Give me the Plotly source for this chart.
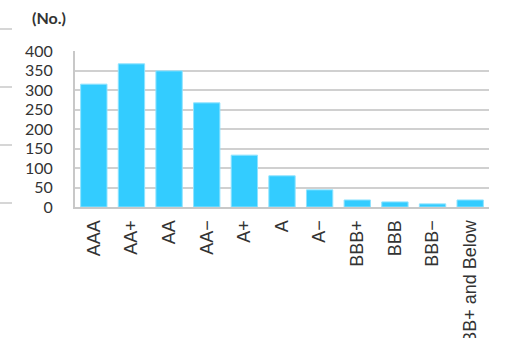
import plotly.graph_objects as go

categories = ["AAA", "AA+", "AA", "AA\u2212", "A+", "A", "A\u2212", "BBB+", "BBB", "BBB\u2212", "BB+ and Below"]
counts = [315, 367, 349, 267, 133, 80, 44, 18, 13, 8, 18]
y_ticks = [0, 50, 100, 150, 200, 250, 300, 350, 400]

fig = go.Figure()
fig.add_trace(go.Bar(
    x=categories, y=counts,
    marker=dict(color="#33CCFF", line=dict(color="#8FE3FF", width=1)),
))

W, H = 506, 338
L, R, T, B = 75, 17, 51, 131

shapes = []
for yy in [29, 87, 145, 203]:
    shapes.append(dict(type="line", xref="paper", yref="paper",
                       x0=-L / (W - L - R), x1=(12 - L) / (W - L - R),
                       y0=(H - B - yy) / (H - T - B), y1=(H - B - yy) / (H - T - B),
                       line=dict(color="#c8c8c8", width=1.5)))

fig.update_layout(
    width=W, height=H,
    margin=dict(l=L, r=R, t=T, b=B, autoexpand=False),
    paper_bgcolor="white", plot_bgcolor="white",
    font=dict(family="Lato", color="#333333"),
    showlegend=False,
    bargap=0.3,
    shapes=shapes,
    annotations=[dict(text="<b>(No.)</b>", xref="paper", yref="paper",
                      x=(30 - L) / (W - L - R), y=(H - B - 17) / (H - T - B),
                      xanchor="left", yanchor="middle", showarrow=False,
                      font=dict(family="Lato", size=16, color="#333333"))],
)
fig.update_xaxes(
    tickangle=-90, tickfont=dict(size=18, family="Liberation Sans, Arial", color="#333333"),
    showline=True, linecolor="#c8c8c8", linewidth=2,
    ticks="", ticklabelstandoff=4, automargin=False,
)
fig.update_yaxes(
    range=[0, 400], tickvals=y_ticks,
    tickfont=dict(size=16, family="Lato", color="#333333"),
    showgrid=True, gridcolor="#d0d0d0", gridwidth=1.5,
    showline=True, linecolor="#c8c8c8", linewidth=2,
    zeroline=False, ticks="", ticklabelstandoff=17, automargin=False,
)

fig.write_html("out.html")
